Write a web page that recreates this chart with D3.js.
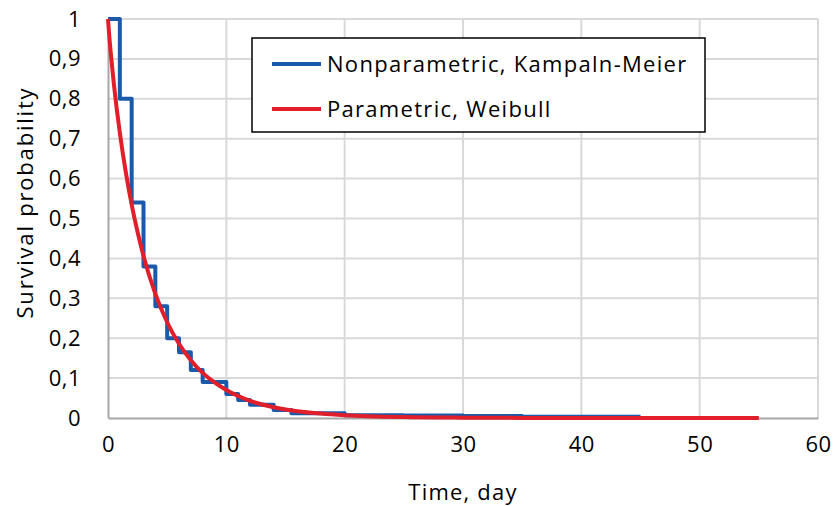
<!DOCTYPE html>
<html>
<head>
<meta charset="utf-8">
<script src="https://cdn.jsdelivr.net/npm/d3@7"></script>
<style>
  body { margin: 0; background: #fff; }
  text { font-family: "Open Sans", "Noto Sans", sans-serif; fill: #000; }
</style>
</head>
<body>
<div id="chart"></div>
<script>
// Kaplan-Meier steps (time, survival) - value holds until next time
var kmTimes  = [0, 1, 2, 3, 4, 5, 6, 7, 8, 10, 11, 12, 14, 15.5, 20, 25, 30, 35, 45];
var kmValues = [1, 0.80, 0.54, 0.38, 0.28, 0.20, 0.165, 0.12, 0.09, 0.06, 0.045, 0.033, 0.02, 0.012, 0.007, 0.006, 0.005, 0.003, 0.003];

// Weibull curve
var wbTimes  = [0, 0.1, 0.25, 0.5, 0.75, 1, 1.5, 2, 2.5, 3, 4, 5, 6, 7, 8, 9, 10, 12, 14, 16, 18, 20, 25, 30, 35, 40, 45, 50, 55];
var wbValues = [1, 0.96, 0.91, 0.836, 0.772, 0.715, 0.617, 0.535, 0.466, 0.406, 0.311, 0.240, 0.186, 0.145, 0.113, 0.089, 0.070, 0.043, 0.027, 0.017, 0.011, 0.007, 0.0023, 0.0008, 0.0003, 0.0001, 0, 0, 0];

var xTicks = [0, 10, 20, 30, 40, 50, 60];
var yTicks = [0, 0.1, 0.2, 0.3, 0.4, 0.5, 0.6, 0.7, 0.8, 0.9, 1];
var seriesNames = ["Nonparametric, Kampaln-Meier", "Parametric, Weibull"];
var seriesColors = ["#1a5aab", "#e01f2b"];

var W = 835, H = 506;
var margin = {top: 19, right: 17, bottom: 88, left: 108};
var width = W - margin.left - margin.right,
    height = H - margin.top - margin.bottom;

var svg = d3.select("#chart").append("svg")
    .attr("width", W)
    .attr("height", H);

var g = svg.append("g")
    .attr("transform", "translate(" + margin.left + "," + margin.top + ")");

var x = d3.scaleLinear().domain([0, 60]).range([0, width]);
var y = d3.scaleLinear().domain([0, 1]).range([height, 0]);

// gridlines
g.append("g").selectAll("line")
    .data(yTicks.slice(1))
    .enter().append("line")
    .attr("x1", 0).attr("x2", width)
    .attr("y1", d => y(d)).attr("y2", d => y(d))
    .attr("stroke", "#d9d9d9").attr("stroke-width", 2);

g.append("g").selectAll("line")
    .data(xTicks.slice(1))
    .enter().append("line")
    .attr("x1", d => x(d)).attr("x2", d => x(d))
    .attr("y1", 0).attr("y2", height)
    .attr("stroke", "#d9d9d9").attr("stroke-width", 2);

// axes
var xAxis = g.append("g")
    .attr("transform", "translate(0," + height + ")")
    .call(d3.axisBottom(x).tickValues(xTicks).tickSize(0).tickPadding(18));
xAxis.select(".domain").attr("stroke", "#a6a6a6").attr("stroke-width", 2);
xAxis.selectAll("text")
    .style("font-size", "22px").style("letter-spacing", "0.5px").attr("fill", "#000");

var yAxis = g.append("g")
    .call(d3.axisLeft(y).tickValues(yTicks).tickSize(0).tickPadding(27)
        .tickFormat(d => d3.format(".1~f")(d).replace(".", ",")));
yAxis.select(".domain").attr("stroke", "#a6a6a6").attr("stroke-width", 2);
yAxis.selectAll("text")
    .style("font-size", "22px").style("letter-spacing", "0.5px").attr("fill", "#000");

// KM step line
var kmData = kmTimes.map((t, i) => ({t: t, v: kmValues[i]}));
var wbData = wbTimes.map((t, i) => ({t: t, v: wbValues[i]}));

g.append("path")
    .datum(kmData)
    .attr("fill", "none")
    .attr("stroke", seriesColors[0])
    .attr("stroke-width", 4)
    .attr("stroke-linejoin", "round")
    .attr("d", d3.line().x(d => x(d.t)).y(d => y(d.v)).curve(d3.curveStepAfter));

g.append("path")
    .datum(wbData)
    .attr("fill", "none")
    .attr("stroke", seriesColors[1])
    .attr("stroke-width", 4)
    .attr("d", d3.line().x(d => x(d.t)).y(d => y(d.v)).curve(d3.curveMonotoneX));

// axis titles
svg.append("text")
    .attr("x", margin.left + x(30))
    .attr("y", 500)
    .attr("text-anchor", "middle")
    .style("font-size", "22px").style("letter-spacing", "1.2px")
    .text("Time, day");

svg.append("text")
    .attr("transform", "translate(33," + (margin.top + y(0.54)) + ") rotate(-90)")
    .attr("text-anchor", "middle")
    .style("font-size", "22px").style("letter-spacing", "1.8px")
    .text("Survival probability");

// legend
var legend = svg.append("g").attr("transform", "translate(252,38)");
legend.append("rect")
    .attr("width", 453).attr("height", 94)
    .attr("fill", "#fff").attr("stroke", "#000").attr("stroke-width", 1.5);

seriesNames.forEach(function(name, i) {
    var ly = 26 + i * 45;
    legend.append("line")
        .attr("x1", 20).attr("x2", 69)
        .attr("y1", ly).attr("y2", ly)
        .attr("stroke", seriesColors[i]).attr("stroke-width", 4);
    legend.append("text")
        .attr("x", 75).attr("y", ly + 8)
        .style("font-size", "22px").style("letter-spacing", "1.3px")
        .text(name);
});
</script>
</body>
</html>
